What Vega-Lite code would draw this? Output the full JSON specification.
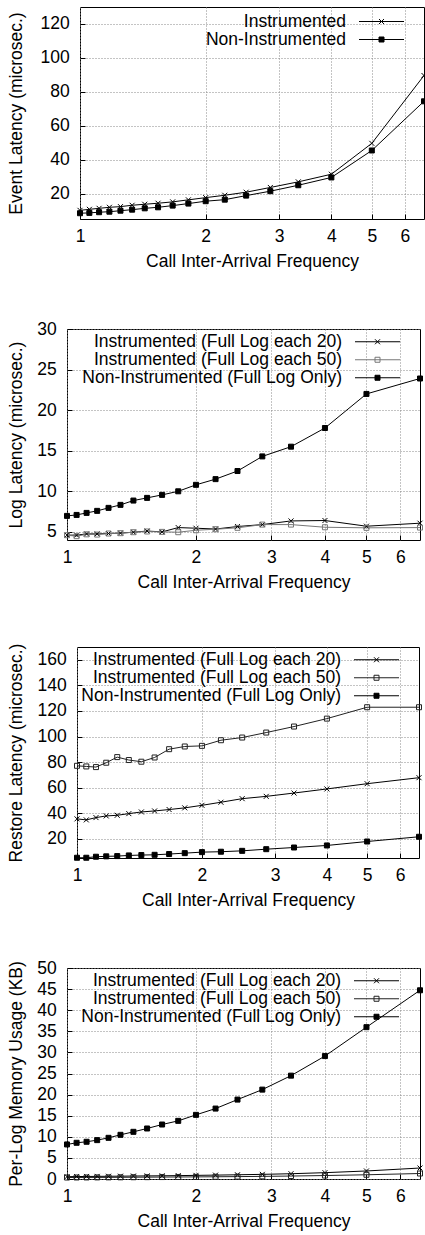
{
  "$schema": "https://vega.github.io/schema/vega-lite/v6.json",
  "padding": {"left": 0, "top": 0, "right": 0, "bottom": 0},
  "background": "white",
  "spacing": 48,
  "datasets": {
    "p1": [
      {"x": 1, "series": "Instrumented", "y": 10.1}, {"x": 1.053, "series": "Instrumented", "y": 10.7}, {"x": 1.111, "series": "Instrumented", "y": 11.3}, {"x": 1.176, "series": "Instrumented", "y": 11.9}, {"x": 1.25, "series": "Instrumented", "y": 12.3}, {"x": 1.333, "series": "Instrumented", "y": 13.1}, {"x": 1.429, "series": "Instrumented", "y": 13.7}, {"x": 1.538, "series": "Instrumented", "y": 14.3}, {"x": 1.667, "series": "Instrumented", "y": 15.1}, {"x": 1.818, "series": "Instrumented", "y": 16.3}, {"x": 2, "series": "Instrumented", "y": 17.6}, {"x": 2.222, "series": "Instrumented", "y": 19.0}, {"x": 2.5, "series": "Instrumented", "y": 20.8}, {"x": 2.857, "series": "Instrumented", "y": 23.6}, {"x": 3.333, "series": "Instrumented", "y": 26.9}, {"x": 4, "series": "Instrumented", "y": 31.4}, {"x": 5, "series": "Instrumented", "y": 49.6}, {"x": 6.667, "series": "Instrumented", "y": 89.6},
      {"x": 1, "series": "Non-Instrumented", "y": 8.4}, {"x": 1.053, "series": "Non-Instrumented", "y": 8.6}, {"x": 1.111, "series": "Non-Instrumented", "y": 9.0}, {"x": 1.176, "series": "Non-Instrumented", "y": 9.3}, {"x": 1.25, "series": "Non-Instrumented", "y": 9.9}, {"x": 1.333, "series": "Non-Instrumented", "y": 10.5}, {"x": 1.429, "series": "Non-Instrumented", "y": 11.3}, {"x": 1.538, "series": "Non-Instrumented", "y": 11.9}, {"x": 1.667, "series": "Non-Instrumented", "y": 12.9}, {"x": 1.818, "series": "Non-Instrumented", "y": 14.1}, {"x": 2, "series": "Non-Instrumented", "y": 15.5}, {"x": 2.222, "series": "Non-Instrumented", "y": 16.4}, {"x": 2.5, "series": "Non-Instrumented", "y": 18.8}, {"x": 2.857, "series": "Non-Instrumented", "y": 21.4}, {"x": 3.333, "series": "Non-Instrumented", "y": 24.9}, {"x": 4, "series": "Non-Instrumented", "y": 29.5}, {"x": 5, "series": "Non-Instrumented", "y": 45.4}, {"x": 6.667, "series": "Non-Instrumented", "y": 74.4}
    ],
    "p2": [
      {"x": 1, "series": "Instrumented (Full Log each 20)", "y": 4.6}, {"x": 1.053, "series": "Instrumented (Full Log each 20)", "y": 4.6}, {"x": 1.111, "series": "Instrumented (Full Log each 20)", "y": 4.75}, {"x": 1.176, "series": "Instrumented (Full Log each 20)", "y": 4.75}, {"x": 1.25, "series": "Instrumented (Full Log each 20)", "y": 4.8}, {"x": 1.333, "series": "Instrumented (Full Log each 20)", "y": 4.85}, {"x": 1.429, "series": "Instrumented (Full Log each 20)", "y": 4.96}, {"x": 1.538, "series": "Instrumented (Full Log each 20)", "y": 5.1}, {"x": 1.667, "series": "Instrumented (Full Log each 20)", "y": 5.0}, {"x": 1.818, "series": "Instrumented (Full Log each 20)", "y": 5.53}, {"x": 2, "series": "Instrumented (Full Log each 20)", "y": 5.45}, {"x": 2.222, "series": "Instrumented (Full Log each 20)", "y": 5.35}, {"x": 2.5, "series": "Instrumented (Full Log each 20)", "y": 5.66}, {"x": 2.857, "series": "Instrumented (Full Log each 20)", "y": 5.9}, {"x": 3.333, "series": "Instrumented (Full Log each 20)", "y": 6.35}, {"x": 4, "series": "Instrumented (Full Log each 20)", "y": 6.4}, {"x": 5, "series": "Instrumented (Full Log each 20)", "y": 5.7}, {"x": 6.667, "series": "Instrumented (Full Log each 20)", "y": 6.07},
      {"x": 1, "series": "Instrumented (Full Log each 50)", "y": 4.59}, {"x": 1.053, "series": "Instrumented (Full Log each 50)", "y": 4.47}, {"x": 1.111, "series": "Instrumented (Full Log each 50)", "y": 4.7}, {"x": 1.176, "series": "Instrumented (Full Log each 50)", "y": 4.67}, {"x": 1.25, "series": "Instrumented (Full Log each 50)", "y": 4.8}, {"x": 1.333, "series": "Instrumented (Full Log each 50)", "y": 4.84}, {"x": 1.429, "series": "Instrumented (Full Log each 50)", "y": 4.96}, {"x": 1.538, "series": "Instrumented (Full Log each 50)", "y": 5.05}, {"x": 1.667, "series": "Instrumented (Full Log each 50)", "y": 5.0}, {"x": 1.818, "series": "Instrumented (Full Log each 50)", "y": 4.96}, {"x": 2, "series": "Instrumented (Full Log each 50)", "y": 5.2}, {"x": 2.222, "series": "Instrumented (Full Log each 50)", "y": 5.33}, {"x": 2.5, "series": "Instrumented (Full Log each 50)", "y": 5.5}, {"x": 2.857, "series": "Instrumented (Full Log each 50)", "y": 5.9}, {"x": 3.333, "series": "Instrumented (Full Log each 50)", "y": 5.9}, {"x": 4, "series": "Instrumented (Full Log each 50)", "y": 5.57}, {"x": 5, "series": "Instrumented (Full Log each 50)", "y": 5.5}, {"x": 6.667, "series": "Instrumented (Full Log each 50)", "y": 5.53},
      {"x": 1, "series": "Non-Instrumented (Full Log Only)", "y": 6.97}, {"x": 1.053, "series": "Non-Instrumented (Full Log Only)", "y": 7.09}, {"x": 1.111, "series": "Non-Instrumented (Full Log Only)", "y": 7.34}, {"x": 1.176, "series": "Non-Instrumented (Full Log Only)", "y": 7.59}, {"x": 1.25, "series": "Non-Instrumented (Full Log Only)", "y": 7.96}, {"x": 1.333, "series": "Non-Instrumented (Full Log Only)", "y": 8.33}, {"x": 1.429, "series": "Non-Instrumented (Full Log Only)", "y": 8.86}, {"x": 1.538, "series": "Non-Instrumented (Full Log Only)", "y": 9.19}, {"x": 1.667, "series": "Non-Instrumented (Full Log Only)", "y": 9.56}, {"x": 1.818, "series": "Non-Instrumented (Full Log Only)", "y": 10.0}, {"x": 2, "series": "Non-Instrumented (Full Log Only)", "y": 10.8}, {"x": 2.222, "series": "Non-Instrumented (Full Log Only)", "y": 11.5}, {"x": 2.5, "series": "Non-Instrumented (Full Log Only)", "y": 12.5}, {"x": 2.857, "series": "Non-Instrumented (Full Log Only)", "y": 14.3}, {"x": 3.333, "series": "Non-Instrumented (Full Log Only)", "y": 15.5}, {"x": 4, "series": "Non-Instrumented (Full Log Only)", "y": 17.8}, {"x": 5, "series": "Non-Instrumented (Full Log Only)", "y": 22.0}, {"x": 6.667, "series": "Non-Instrumented (Full Log Only)", "y": 23.9}
    ],
    "p3": [
      {"x": 1, "series": "Instrumented (Full Log each 20)", "y": 35.6}, {"x": 1.053, "series": "Instrumented (Full Log each 20)", "y": 34.8}, {"x": 1.111, "series": "Instrumented (Full Log each 20)", "y": 36.6}, {"x": 1.176, "series": "Instrumented (Full Log each 20)", "y": 37.9}, {"x": 1.25, "series": "Instrumented (Full Log each 20)", "y": 38.4}, {"x": 1.333, "series": "Instrumented (Full Log each 20)", "y": 39.7}, {"x": 1.429, "series": "Instrumented (Full Log each 20)", "y": 41.0}, {"x": 1.538, "series": "Instrumented (Full Log each 20)", "y": 41.8}, {"x": 1.667, "series": "Instrumented (Full Log each 20)", "y": 42.9}, {"x": 1.818, "series": "Instrumented (Full Log each 20)", "y": 44.2}, {"x": 2, "series": "Instrumented (Full Log each 20)", "y": 46.2}, {"x": 2.222, "series": "Instrumented (Full Log each 20)", "y": 48.6}, {"x": 2.5, "series": "Instrumented (Full Log each 20)", "y": 51.4}, {"x": 2.857, "series": "Instrumented (Full Log each 20)", "y": 53.2}, {"x": 3.333, "series": "Instrumented (Full Log each 20)", "y": 55.8}, {"x": 4, "series": "Instrumented (Full Log each 20)", "y": 59.0}, {"x": 5, "series": "Instrumented (Full Log each 20)", "y": 63.1}, {"x": 6.667, "series": "Instrumented (Full Log each 20)", "y": 67.8},
      {"x": 1, "series": "Instrumented (Full Log each 50)", "y": 77.1}, {"x": 1.053, "series": "Instrumented (Full Log each 50)", "y": 76.6}, {"x": 1.111, "series": "Instrumented (Full Log each 50)", "y": 76.1}, {"x": 1.176, "series": "Instrumented (Full Log each 50)", "y": 79.5}, {"x": 1.25, "series": "Instrumented (Full Log each 50)", "y": 83.9}, {"x": 1.333, "series": "Instrumented (Full Log each 50)", "y": 81.6}, {"x": 1.429, "series": "Instrumented (Full Log each 50)", "y": 80.3}, {"x": 1.538, "series": "Instrumented (Full Log each 50)", "y": 83.6}, {"x": 1.667, "series": "Instrumented (Full Log each 50)", "y": 90.1}, {"x": 1.818, "series": "Instrumented (Full Log each 50)", "y": 92.2}, {"x": 2, "series": "Instrumented (Full Log each 50)", "y": 92.7}, {"x": 2.222, "series": "Instrumented (Full Log each 50)", "y": 97.1}, {"x": 2.5, "series": "Instrumented (Full Log each 50)", "y": 99.2}, {"x": 2.857, "series": "Instrumented (Full Log each 50)", "y": 103.1}, {"x": 3.333, "series": "Instrumented (Full Log each 50)", "y": 107.8}, {"x": 4, "series": "Instrumented (Full Log each 50)", "y": 114.0}, {"x": 5, "series": "Instrumented (Full Log each 50)", "y": 122.9}, {"x": 6.667, "series": "Instrumented (Full Log each 50)", "y": 122.9},
      {"x": 1, "series": "Non-Instrumented (Full Log Only)", "y": 5.2}, {"x": 1.053, "series": "Non-Instrumented (Full Log Only)", "y": 5.2}, {"x": 1.111, "series": "Non-Instrumented (Full Log Only)", "y": 6.0}, {"x": 1.176, "series": "Non-Instrumented (Full Log Only)", "y": 6.3}, {"x": 1.25, "series": "Non-Instrumented (Full Log Only)", "y": 6.5}, {"x": 1.333, "series": "Non-Instrumented (Full Log Only)", "y": 7.0}, {"x": 1.429, "series": "Non-Instrumented (Full Log Only)", "y": 7.3}, {"x": 1.538, "series": "Non-Instrumented (Full Log Only)", "y": 7.5}, {"x": 1.667, "series": "Non-Instrumented (Full Log Only)", "y": 8.1}, {"x": 1.818, "series": "Non-Instrumented (Full Log Only)", "y": 8.8}, {"x": 2, "series": "Non-Instrumented (Full Log Only)", "y": 9.6}, {"x": 2.222, "series": "Non-Instrumented (Full Log Only)", "y": 9.9}, {"x": 2.5, "series": "Non-Instrumented (Full Log Only)", "y": 10.6}, {"x": 2.857, "series": "Non-Instrumented (Full Log Only)", "y": 11.9}, {"x": 3.333, "series": "Non-Instrumented (Full Log Only)", "y": 13.2}, {"x": 4, "series": "Non-Instrumented (Full Log Only)", "y": 14.8}, {"x": 5, "series": "Non-Instrumented (Full Log Only)", "y": 17.9}, {"x": 6.667, "series": "Non-Instrumented (Full Log Only)", "y": 21.6}
    ],
    "p4": [
      {"x": 1, "series": "Instrumented (Full Log each 20)", "y": 0.55}, {"x": 1.053, "series": "Instrumented (Full Log each 20)", "y": 0.58}, {"x": 1.111, "series": "Instrumented (Full Log each 20)", "y": 0.6}, {"x": 1.176, "series": "Instrumented (Full Log each 20)", "y": 0.62}, {"x": 1.25, "series": "Instrumented (Full Log each 20)", "y": 0.65}, {"x": 1.333, "series": "Instrumented (Full Log each 20)", "y": 0.67}, {"x": 1.429, "series": "Instrumented (Full Log each 20)", "y": 0.7}, {"x": 1.538, "series": "Instrumented (Full Log each 20)", "y": 0.73}, {"x": 1.667, "series": "Instrumented (Full Log each 20)", "y": 0.76}, {"x": 1.818, "series": "Instrumented (Full Log each 20)", "y": 0.8}, {"x": 2, "series": "Instrumented (Full Log each 20)", "y": 0.86}, {"x": 2.222, "series": "Instrumented (Full Log each 20)", "y": 0.92}, {"x": 2.5, "series": "Instrumented (Full Log each 20)", "y": 1.0}, {"x": 2.857, "series": "Instrumented (Full Log each 20)", "y": 1.1}, {"x": 3.333, "series": "Instrumented (Full Log each 20)", "y": 1.25}, {"x": 4, "series": "Instrumented (Full Log each 20)", "y": 1.5}, {"x": 5, "series": "Instrumented (Full Log each 20)", "y": 1.9}, {"x": 6.667, "series": "Instrumented (Full Log each 20)", "y": 2.6},
      {"x": 1, "series": "Instrumented (Full Log each 50)", "y": 0.35}, {"x": 1.053, "series": "Instrumented (Full Log each 50)", "y": 0.36}, {"x": 1.111, "series": "Instrumented (Full Log each 50)", "y": 0.37}, {"x": 1.176, "series": "Instrumented (Full Log each 50)", "y": 0.38}, {"x": 1.25, "series": "Instrumented (Full Log each 50)", "y": 0.39}, {"x": 1.333, "series": "Instrumented (Full Log each 50)", "y": 0.4}, {"x": 1.429, "series": "Instrumented (Full Log each 50)", "y": 0.42}, {"x": 1.538, "series": "Instrumented (Full Log each 50)", "y": 0.44}, {"x": 1.667, "series": "Instrumented (Full Log each 50)", "y": 0.46}, {"x": 1.818, "series": "Instrumented (Full Log each 50)", "y": 0.48}, {"x": 2, "series": "Instrumented (Full Log each 50)", "y": 0.5}, {"x": 2.222, "series": "Instrumented (Full Log each 50)", "y": 0.53}, {"x": 2.5, "series": "Instrumented (Full Log each 50)", "y": 0.57}, {"x": 2.857, "series": "Instrumented (Full Log each 50)", "y": 0.62}, {"x": 3.333, "series": "Instrumented (Full Log each 50)", "y": 0.7}, {"x": 4, "series": "Instrumented (Full Log each 50)", "y": 0.82}, {"x": 5, "series": "Instrumented (Full Log each 50)", "y": 1.0}, {"x": 6.667, "series": "Instrumented (Full Log each 50)", "y": 1.3},
      {"x": 1, "series": "Non-Instrumented (Full Log Only)", "y": 8.19}, {"x": 1.053, "series": "Non-Instrumented (Full Log Only)", "y": 8.58}, {"x": 1.111, "series": "Non-Instrumented (Full Log Only)", "y": 8.82}, {"x": 1.176, "series": "Non-Instrumented (Full Log Only)", "y": 9.21}, {"x": 1.25, "series": "Non-Instrumented (Full Log Only)", "y": 9.76}, {"x": 1.333, "series": "Non-Instrumented (Full Log Only)", "y": 10.47}, {"x": 1.429, "series": "Non-Instrumented (Full Log Only)", "y": 11.18}, {"x": 1.538, "series": "Non-Instrumented (Full Log Only)", "y": 11.97}, {"x": 1.667, "series": "Non-Instrumented (Full Log Only)", "y": 12.91}, {"x": 1.818, "series": "Non-Instrumented (Full Log Only)", "y": 13.78}, {"x": 2, "series": "Non-Instrumented (Full Log Only)", "y": 15.2}, {"x": 2.222, "series": "Non-Instrumented (Full Log Only)", "y": 16.69}, {"x": 2.5, "series": "Non-Instrumented (Full Log Only)", "y": 18.82}, {"x": 2.857, "series": "Non-Instrumented (Full Log Only)", "y": 21.18}, {"x": 3.333, "series": "Non-Instrumented (Full Log Only)", "y": 24.49}, {"x": 4, "series": "Non-Instrumented (Full Log Only)", "y": 29.13}, {"x": 5, "series": "Non-Instrumented (Full Log Only)", "y": 35.98}, {"x": 6.667, "series": "Non-Instrumented (Full Log Only)", "y": 44.72}
    ]
  },
  "vconcat": [
    {"hconcat": [
      {"width": 1, "height": 1, "title": {"text": " ", "fontSize": 4, "offset": 0}, "view": {"stroke": null}, "data": {"values": [{"a": 0}]}, "mark": {"type": "point", "opacity": 0}},
      {
      "width": 344, "height": 212,
      "data": {"name": "p1"},
      "encoding": {
        "x": {"field": "x", "type": "quantitative", "scale": {"type": "log", "domain": [1, 6.667], "nice": false}, "axis": {"values": [1, 2, 3, 4, 5, 6], "format": "d", "title": "Call Inter-Arrival Frequency"}},
        "y": {"field": "y", "type": "quantitative", "scale": {"domain": [5, 130], "nice": false, "zero": false}, "axis": {"values": [20, 40, 60, 80, 100, 120], "title": "Event Latency (microsec.)", "titlePadding": 14.6}},
        "stroke": {"field": "series", "type": "nominal", "scale": {"domain": ["Instrumented", "Non-Instrumented"], "range": ["black", "black"]},
          "legend": {"orient": "none", "legendX": 96, "legendY": 5.75, "rowPadding": -3, "title": null, "labelAlign": "right", "labelOffset": -44.25, "symbolOffset": 196.75, "symbolSize": 100, "encode": {"symbols": {"update": {"size": {"value": 100}, "shape": {"signal": "datum.value === 'Instrumented' ? 'M-4.5,0H4.5M-0.5,-0.5L0.5,0.5M-0.5,0.5L0.5,-0.5' : 'M-4.5,0H4.5M-0.5,-0.5H0.5V0.5H-0.5Z'"}}}}}}
      },
      "layer": [
        {"mark": {"type": "line", "strokeWidth": 1}},
        {"mark": {"type": "point", "filled": true, "size": 25, "strokeWidth": 1, "opacity": 1},
         "encoding": {
           "shape": {"condition": {"test": "datum.series === 'Instrumented'", "value": "M-1,-1L1,1M-1,1L1,-1"}, "value": "square"},
           "fill": {"field": "series", "type": "nominal", "scale": {"domain": ["Instrumented", "Non-Instrumented"], "range": ["black", "black"]},
             "legend": {"orient": "none", "legendX": 96, "legendY": 5.75, "rowPadding": -3, "title": null, "labelAlign": "right", "labelOffset": -44.25, "symbolOffset": 196.75, "symbolSize": 100, "encode": {"symbols": {"update": {"size": {"value": 100}, "shape": {"signal": "datum.value === 'Instrumented' ? 'M-4.5,0H4.5M-0.5,-0.5L0.5,0.5M-0.5,0.5L0.5,-0.5' : 'M-4.5,0H4.5M-0.5,-0.5H0.5V0.5H-0.5Z'"}}}}}}
         }}
      ]
    }], "spacing": 0, "resolve": {"scale": {"x": "independent", "y": "independent", "stroke": "independent", "fill": "independent"}, "legend": {"stroke": "independent", "fill": "independent"}}},
    {"hconcat": [
      {"width": 1, "height": 1, "title": {"text": " ", "fontSize": 4, "offset": 0}, "view": {"stroke": null}, "data": {"values": [{"a": 0}]}, "mark": {"type": "point", "opacity": 0}},
      {
      "width": 353, "height": 211,
      "data": {"name": "p2"},
      "encoding": {
        "x": {"field": "x", "type": "quantitative", "scale": {"type": "log", "domain": [1, 6.667], "nice": false}, "axis": {"values": [1, 2, 3, 4, 5, 6], "format": "d", "title": "Call Inter-Arrival Frequency"}},
        "y": {"field": "y", "type": "quantitative", "scale": {"domain": [4, 30], "nice": false, "zero": false}, "axis": {"values": [5, 10, 15, 20, 25, 30], "title": "Log Latency (microsec.)", "titlePadding": 11.3}},
        "stroke": {"field": "series", "type": "nominal", "scale": {"domain": ["Instrumented (Full Log each 20)", "Instrumented (Full Log each 50)", "Non-Instrumented (Full Log Only)"], "range": ["black", "#777777", "black"]},
          "legend": {"orient": "none", "legendX": 13, "legendY": 4, "rowPadding": -2, "title": null, "labelAlign": "right", "labelOffset": -44.25, "symbolOffset": 288.75, "symbolSize": 100, "encode": {"symbols": {"update": {"size": {"value": 100}, "shape": {"signal": "indexof(datum.value, 'each 20') >= 0 ? 'M-4.5,0H4.5M-0.5,-0.5L0.5,0.5M-0.5,0.5L0.5,-0.5' : 'M-4.5,0H4.5M-0.5,-0.5H0.5V0.5H-0.5Z'"}}}}}}
      },
      "layer": [
        {"mark": {"type": "line", "strokeWidth": 1}},
        {"mark": {"type": "point", "filled": true, "size": 25, "strokeWidth": 1, "opacity": 1},
         "encoding": {
           "shape": {"condition": {"test": "indexof(datum.series, 'each 20') >= 0", "value": "M-1,-1L1,1M-1,1L1,-1"}, "value": "square"},
           "fill": {"field": "series", "type": "nominal", "scale": {"domain": ["Instrumented (Full Log each 20)", "Instrumented (Full Log each 50)", "Non-Instrumented (Full Log Only)"], "range": ["black", "transparent", "black"]},
             "legend": {"orient": "none", "legendX": 13, "legendY": 4, "rowPadding": -2, "title": null, "labelAlign": "right", "labelOffset": -44.25, "symbolOffset": 288.75, "symbolSize": 100, "encode": {"symbols": {"update": {"size": {"value": 100}, "shape": {"signal": "indexof(datum.value, 'each 20') >= 0 ? 'M-4.5,0H4.5M-0.5,-0.5L0.5,0.5M-0.5,0.5L0.5,-0.5' : 'M-4.5,0H4.5M-0.5,-0.5H0.5V0.5H-0.5Z'"}}}}}}
         }}
      ]
    }], "spacing": 0, "resolve": {"scale": {"x": "independent", "y": "independent", "stroke": "independent", "fill": "independent"}, "legend": {"stroke": "independent", "fill": "independent"}}},
    {"hconcat": [
      {"width": 1, "height": 1, "title": {"text": " ", "fontSize": 4, "offset": 0}, "view": {"stroke": null}, "data": {"values": [{"a": 0}]}, "mark": {"type": "point", "opacity": 0}},
      {
      "width": 342, "height": 211,
      "data": {"name": "p3"},
      "encoding": {
        "x": {"field": "x", "type": "quantitative", "scale": {"type": "log", "domain": [1, 6.667], "nice": false}, "axis": {"values": [1, 2, 3, 4, 5, 6], "format": "d", "title": "Call Inter-Arrival Frequency"}},
        "y": {"field": "y", "type": "quantitative", "scale": {"domain": [5, 170], "nice": false, "zero": false}, "axis": {"values": [20, 40, 60, 80, 100, 120, 140, 160], "title": "Restore Latency (microsec.)", "titlePadding": 11.6}},
        "stroke": {"field": "series", "type": "nominal", "scale": {"domain": ["Instrumented (Full Log each 20)", "Instrumented (Full Log each 50)", "Non-Instrumented (Full Log Only)"], "range": ["black", "#222222", "black"]},
          "legend": {"orient": "none", "legendX": 2, "legendY": 4, "rowPadding": -2, "title": null, "labelAlign": "right", "labelOffset": -44.25, "symbolOffset": 288.75, "symbolSize": 100, "encode": {"symbols": {"update": {"size": {"value": 100}, "shape": {"signal": "indexof(datum.value, 'each 20') >= 0 ? 'M-4.5,0H4.5M-0.5,-0.5L0.5,0.5M-0.5,0.5L0.5,-0.5' : 'M-4.5,0H4.5M-0.5,-0.5H0.5V0.5H-0.5Z'"}}}}}}
      },
      "layer": [
        {"mark": {"type": "line", "strokeWidth": 1}},
        {"mark": {"type": "point", "filled": true, "size": 25, "strokeWidth": 1, "opacity": 1},
         "encoding": {
           "shape": {"condition": {"test": "indexof(datum.series, 'each 20') >= 0", "value": "M-1,-1L1,1M-1,1L1,-1"}, "value": "square"},
           "fill": {"field": "series", "type": "nominal", "scale": {"domain": ["Instrumented (Full Log each 20)", "Instrumented (Full Log each 50)", "Non-Instrumented (Full Log Only)"], "range": ["black", "transparent", "black"]},
             "legend": {"orient": "none", "legendX": 2, "legendY": 4, "rowPadding": -2, "title": null, "labelAlign": "right", "labelOffset": -44.25, "symbolOffset": 288.75, "symbolSize": 100, "encode": {"symbols": {"update": {"size": {"value": 100}, "shape": {"signal": "indexof(datum.value, 'each 20') >= 0 ? 'M-4.5,0H4.5M-0.5,-0.5L0.5,0.5M-0.5,0.5L0.5,-0.5' : 'M-4.5,0H4.5M-0.5,-0.5H0.5V0.5H-0.5Z'"}}}}}}
         }}
      ]
    }], "spacing": 0, "resolve": {"scale": {"x": "independent", "y": "independent", "stroke": "independent", "fill": "independent"}, "legend": {"stroke": "independent", "fill": "independent"}}},
    {"hconcat": [
      {"width": 1, "height": 1, "title": {"text": " ", "fontSize": 4, "offset": 0}, "view": {"stroke": null}, "data": {"values": [{"a": 0}]}, "mark": {"type": "point", "opacity": 0}},
      {
      "width": 353, "height": 211,
      "data": {"name": "p4"},
      "encoding": {
        "x": {"field": "x", "type": "quantitative", "scale": {"type": "log", "domain": [1, 6.667], "nice": false}, "axis": {"values": [1, 2, 3, 4, 5, 6], "format": "d", "title": "Call Inter-Arrival Frequency"}},
        "y": {"field": "y", "type": "quantitative", "scale": {"domain": [0, 50], "nice": false}, "axis": {"values": [0, 5, 10, 15, 20, 25, 30, 35, 40, 45, 50], "title": "Per-Log Memory Usage (KB)", "titlePadding": 11.3}},
        "stroke": {"field": "series", "type": "nominal", "scale": {"domain": ["Instrumented (Full Log each 20)", "Instrumented (Full Log each 50)", "Non-Instrumented (Full Log Only)"], "range": ["black", "#222222", "black"]},
          "legend": {"orient": "none", "legendX": 12, "legendY": 4, "rowPadding": -2, "title": null, "labelAlign": "right", "labelOffset": -44.25, "symbolOffset": 288.75, "symbolSize": 100, "encode": {"symbols": {"update": {"size": {"value": 100}, "shape": {"signal": "indexof(datum.value, 'each 20') >= 0 ? 'M-4.5,0H4.5M-0.5,-0.5L0.5,0.5M-0.5,0.5L0.5,-0.5' : 'M-4.5,0H4.5M-0.5,-0.5H0.5V0.5H-0.5Z'"}}}}}}
      },
      "layer": [
        {"mark": {"type": "line", "strokeWidth": 1}},
        {"mark": {"type": "point", "filled": true, "size": 25, "strokeWidth": 1, "opacity": 1},
         "encoding": {
           "shape": {"condition": {"test": "indexof(datum.series, 'each 20') >= 0", "value": "M-1,-1L1,1M-1,1L1,-1"}, "value": "square"},
           "fill": {"field": "series", "type": "nominal", "scale": {"domain": ["Instrumented (Full Log each 20)", "Instrumented (Full Log each 50)", "Non-Instrumented (Full Log Only)"], "range": ["black", "transparent", "black"]},
             "legend": {"orient": "none", "legendX": 12, "legendY": 4, "rowPadding": -2, "title": null, "labelAlign": "right", "labelOffset": -44.25, "symbolOffset": 288.75, "symbolSize": 100, "encode": {"symbols": {"update": {"size": {"value": 100}, "shape": {"signal": "indexof(datum.value, 'each 20') >= 0 ? 'M-4.5,0H4.5M-0.5,-0.5L0.5,0.5M-0.5,0.5L0.5,-0.5' : 'M-4.5,0H4.5M-0.5,-0.5H0.5V0.5H-0.5Z'"}}}}}}
         }}
      ]
    }], "spacing": 0, "resolve": {"scale": {"x": "independent", "y": "independent", "stroke": "independent", "fill": "independent"}, "legend": {"stroke": "independent", "fill": "independent"}}}
  ],
  "resolve": {"scale": {"x": "independent", "y": "independent", "stroke": "independent", "fill": "independent"}, "legend": {"stroke": "independent", "fill": "independent"}},
  "config": {
    "font": "Liberation Sans",
    "view": {"stroke": "black", "strokeWidth": 1},
    "title": {"font": "Liberation Sans"},
    "axis": {
      "labelFont": "Liberation Sans", "labelFontSize": 17.5, "labelColor": "black",
      "titleFont": "Liberation Sans", "titleFontSize": 17.5, "titleFontWeight": "normal", "titleColor": "black",
      "grid": true, "gridColor": "#888888", "gridDash": [1, 2], "gridWidth": 1,
      "domain": false, "ticks": true, "tickSize": -5, "tickColor": "black", "tickWidth": 1,
      "labelFlush": false, "labelOverlap": false
    },
    "axisX": {"labelPadding": 13.2, "titlePadding": 7.5},
    "axisY": {"labelPadding": 15.7},
    "legend": {
      "labelFont": "Liberation Sans", "labelFontSize": 17.5, "labelColor": "black", "labelLimit": 400,
      "symbolStrokeWidth": 1, "padding": 0, "strokeColor": null
    }
  }
}
